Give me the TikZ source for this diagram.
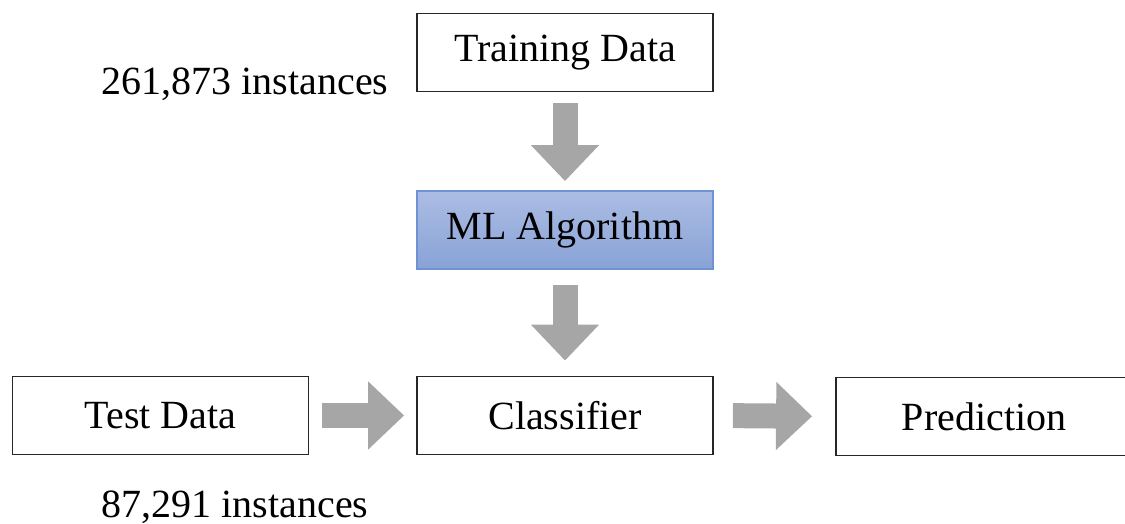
\documentclass[tikz,border=0pt]{standalone}
\usepackage{fontspec}
\setmainfont{Liberation Serif}
\usetikzlibrary{arrows.meta}
\definecolor{arrowgray}{RGB}{166,166,166}
\definecolor{algtop}{RGB}{172,189,228}
\definecolor{algbottom}{RGB}{136,162,214}
\definecolor{algedge}{RGB}{110,146,210}
\begin{document}
\begin{tikzpicture}[x=0.5pt, y=-0.5pt,
  databox/.style={draw=black!85, line width=0.9pt, minimum width=148pt, minimum height=39pt,
    inner sep=0pt, font=\fontsize{20}{24}\selectfont},
  algbox/.style={databox, draw=algedge, top color=algtop, bottom color=algbottom},
  flowarrow/.style={draw=arrowgray, line width=12.5pt,
    -{Triangle[width=33pt, length=18pt]}},
  countlabel/.style={anchor=base, inner sep=0pt, font=\fontsize{20}{24}\selectfont}]
% Fix the page size
\useasboundingbox (0,0) rectangle (1125,524);

% Boxes
\node[databox] (train) at (565, 52.5) {Training Data};
\node[algbox] (alg) at (565, 230) {ML Algorithm};
\node[databox] (clf) at (565, 415.5) {Classifier};
\node[databox] (test) at (160.5, 415.5) {Test Data};
\node[databox] (pred) at (984, 416.5) {Prediction};

% Instance counts
\node[countlabel] (ntrain) at (245, 95) {261,873 instances};
\node[countlabel] (ntest) at (235, 517) {87,291 instances};

% Block arrows
\draw[flowarrow, shorten <=5.5pt, shorten >=4.5pt] (train.south) -- (alg.north);
\draw[flowarrow, shorten <=7.5pt, shorten >=7.5pt] (alg.south) -- (clf.north);
\draw[flowarrow, shorten <=6.5pt, shorten >=6pt] (test.east) -- (clf.west);
\draw[flowarrow, shorten <=9.5pt, shorten >=11.5pt] (clf.east) -- (pred.west);
\end{tikzpicture}
\end{document}
